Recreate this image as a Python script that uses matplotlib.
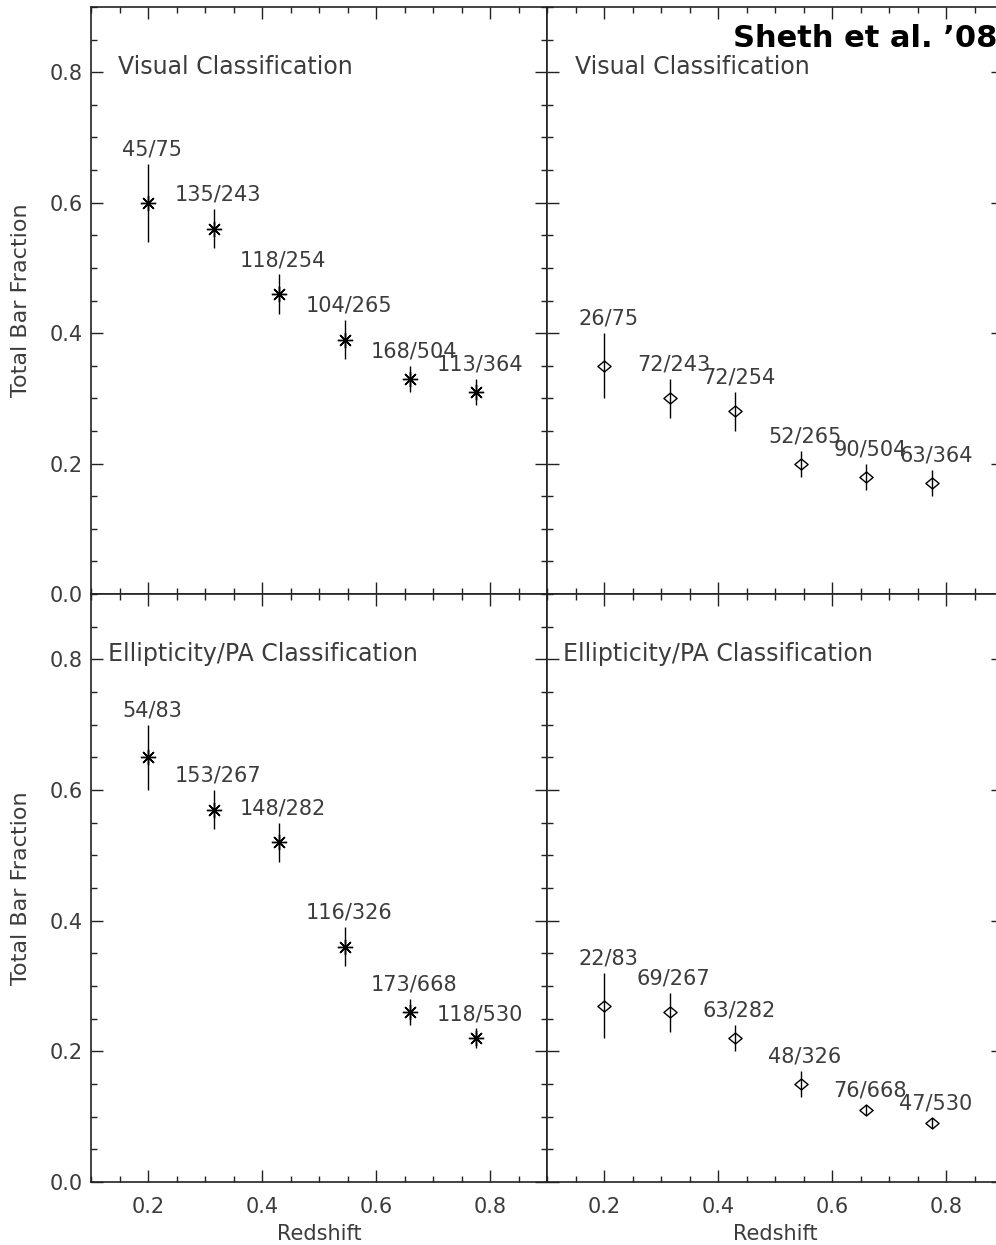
import matplotlib
matplotlib.use("Agg")
import matplotlib.pyplot as plt
from matplotlib.ticker import MultipleLocator, FormatStrFormatter
from matplotlib.path import Path

# ---------------- data ----------------
redshift = [0.2, 0.315, 0.43, 0.545, 0.66, 0.775]

vis_total_frac = [0.60, 0.56, 0.46, 0.39, 0.33, 0.31]
vis_total_err = [0.06, 0.03, 0.03, 0.03, 0.02, 0.02]
vis_total_labels = ["45/75", "135/243", "118/254", "104/265", "168/504", "113/364"]

vis_strong_frac = [0.35, 0.30, 0.28, 0.20, 0.18, 0.17]
vis_strong_err = [0.05, 0.03, 0.03, 0.02, 0.02, 0.02]
vis_strong_labels = ["26/75", "72/243", "72/254", "52/265", "90/504", "63/364"]

ell_total_frac = [0.65, 0.57, 0.52, 0.36, 0.26, 0.22]
ell_total_err = [0.05, 0.03, 0.03, 0.03, 0.02, 0.015]
ell_total_labels = ["54/83", "153/267", "148/282", "116/326", "173/668", "118/530"]

ell_strong_frac = [0.27, 0.26, 0.22, 0.15, 0.11, 0.09]
ell_strong_err = [0.05, 0.03, 0.02, 0.02, 0.008, 0.008]
ell_strong_labels = ["22/83", "69/267", "63/282", "48/326", "76/668", "47/530"]

panel_titles = ["Visual Classification", "Visual Classification",
                "Ellipticity/PA Classification", "Ellipticity/PA Classification"]
y_label = "Total Bar Fraction"
x_label = "Redshift"
credit = "Sheth et al. \u201908"

# ---------------- figure ----------------
W, H = 996, 1245
DPI = 100
fig = plt.figure(figsize=(W / DPI, H / DPI), dpi=DPI)
fig.patch.set_facecolor("white")

TXT = "#3c3c3c"
AX = "#222222"

left_x0, right_x0, pw = 91, 547, 456
top_top, mid, bot = 7, 594, 1182
ph_top = mid - top_top
ph_bot = bot - mid

def make_ax(x0, ytop, h):
    return fig.add_axes([x0 / W, 1 - (ytop + h) / H, pw / W, h / H])

ax_tl = make_ax(left_x0, top_top, ph_top)
ax_tr = make_ax(right_x0, top_top, ph_top)
ax_bl = make_ax(left_x0, mid, ph_bot)
ax_br = make_ax(right_x0, mid, ph_bot)

star = (8, 2, 0)
diamond = Path([(-1, 0), (0, 0.83), (1, 0), (0, -0.83), (-1, 0)],
               [Path.MOVETO, Path.LINETO, Path.LINETO, Path.LINETO, Path.CLOSEPOLY])

panels = [
    (ax_tl, vis_total_frac, vis_total_err, vis_total_labels, star, 11, panel_titles[0], 0.059),
    (ax_tr, vis_strong_frac, vis_strong_err, vis_strong_labels, diamond, 9.5, panel_titles[1], 0.061),
    (ax_bl, ell_total_frac, ell_total_err, ell_total_labels, star, 11, panel_titles[2], 0.037),
    (ax_br, ell_strong_frac, ell_strong_err, ell_strong_labels, diamond, 9.5, panel_titles[3], 0.035),
]

for ax, frac, err, labels, mk, ms, title, tx in panels:
    ax.set_xlim(0.1, 0.9)
    ax.set_ylim(0.0, 0.9)
    ax.errorbar(redshift, frac, yerr=err, fmt="none", ecolor="black",
                elinewidth=1.0, capsize=0, zorder=2)
    ax.plot(redshift, frac, linestyle="none", marker=mk, markersize=ms,
            markerfacecolor="none", markeredgecolor="black",
            markeredgewidth=1.0, zorder=3)
    for xv, yv, ev, lab in zip(redshift, frac, err, labels):
        ax.annotate(lab, (xv, yv + ev), xytext=(3, 6), textcoords="offset points",
                    ha="center", va="baseline", fontsize=15, color=TXT)
    ax.text(tx, 0.886, title, transform=ax.transAxes, ha="left", va="baseline",
            fontsize=17, color=TXT)

    ax.xaxis.set_major_locator(MultipleLocator(0.2))
    ax.xaxis.set_minor_locator(MultipleLocator(0.05))
    ax.yaxis.set_major_locator(MultipleLocator(0.2))
    ax.yaxis.set_minor_locator(MultipleLocator(0.05))
    ax.xaxis.set_major_formatter(FormatStrFormatter("%.1f"))
    ax.yaxis.set_major_formatter(FormatStrFormatter("%.1f"))
    ax.tick_params(which="both", direction="in", top=True, right=True,
                   color=AX, width=1.0, labelcolor=TXT, labelsize=15)
    ax.tick_params(which="major", length=8.5)
    ax.tick_params(which="minor", length=4.5)
    ax.tick_params(axis="x", pad=11)
    ax.tick_params(axis="y", pad=6)
    for sp in ax.spines.values():
        sp.set_color(AX)
        sp.set_linewidth(1.2)

for ax in (ax_tl, ax_tr):
    ax.tick_params(axis="x", labelbottom=False)
for ax in (ax_tr, ax_br):
    ax.tick_params(axis="y", labelleft=False)

for ax in (ax_tl, ax_bl):
    ax.set_ylabel(y_label, fontsize=16, color=TXT)
    ax.yaxis.set_label_coords(-0.132, 0.5)
for ax in (ax_bl, ax_br):
    ax.set_xlabel(x_label, fontsize=15, color=TXT)
    ax.xaxis.set_label_coords(0.5, -0.072)
    ax.xaxis.label.set_va("top")

fig.text(733 / W, 1 - 47 / H, credit, ha="left", va="baseline",
         fontsize=22, fontweight="bold", color="black")

fig.savefig("out.png", dpi=DPI, facecolor="white")
